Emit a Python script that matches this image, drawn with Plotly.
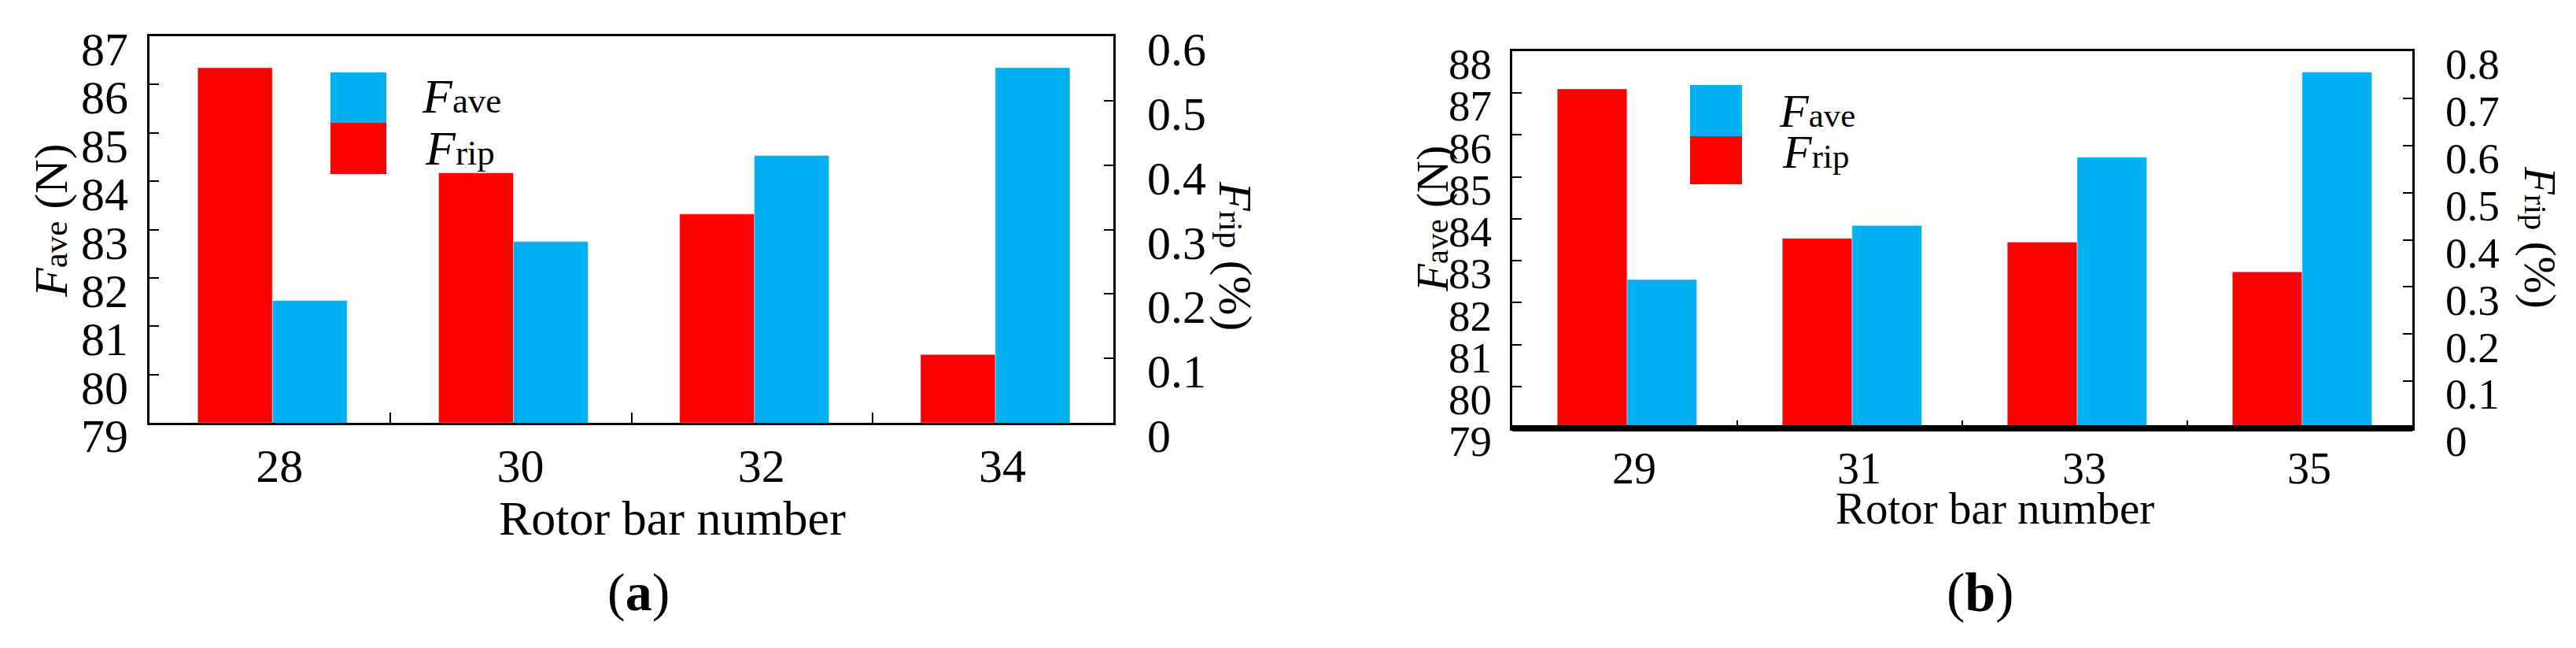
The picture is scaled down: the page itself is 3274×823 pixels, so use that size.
import plotly.graph_objects as go

W, H = 3274, 823

# panel (a)
bars_a = ["28", "30", "32", "34"]
ave_a = [81.53, 82.75, 84.53, 86.35]
rip_a = [0.551, 0.388, 0.324, 0.106]

# panel (b)
bars_b = ["29", "31", "33", "35"]
ave_b = [82.55, 83.84, 85.47, 87.5]
rip_b = [0.72, 0.403, 0.395, 0.332]

RED = "#FF0000"
BLUE = "#00B0F0"
FONT = "Liberation Serif"


def px(x):
    return x / W


def py(y):
    return 1 - y / H


fig = go.Figure()

# red on the right axis, blue on the left axis
fig.add_trace(go.Bar(x=bars_a, y=rip_a, xaxis="x", yaxis="y2", marker_color=RED,
                     width=0.31, offset=-0.30, showlegend=False))
fig.add_trace(go.Bar(x=bars_a, y=ave_a, xaxis="x", yaxis="y", marker_color=BLUE,
                     width=0.31, offset=0.01, base=0, showlegend=False))
fig.add_trace(go.Bar(x=bars_b, y=rip_b, xaxis="x2", yaxis="y4", marker_color=RED,
                     width=0.31, offset=-0.30, showlegend=False))
fig.add_trace(go.Bar(x=bars_b, y=ave_b, xaxis="x2", yaxis="y3", marker_color=BLUE,
                     width=0.31, offset=0.01, base=0, showlegend=False))

line = dict(showline=True, linecolor="black", linewidth=3, showgrid=False,
            zeroline=False, automargin=False)


def xaxis(dom, anchor, size, tl):
    return dict(domain=dom, anchor=anchor, type="category", mirror=True,
                ticks="inside", tickson="boundaries", ticklen=tl, tickwidth=2,
                tickcolor="black", ticklabelshift=12, ticklabelstandoff=0,
                tickfont=dict(family=FONT, size=size, color="black"), **line)


def yleft(dom, anchor, rng, size):
    return dict(domain=dom, anchor=anchor, range=rng, dtick=1, mirror=True,
                ticks="inside", ticklen=12, tickwidth=2, tickcolor="black",
                ticklabelshift=16, ticklabelstandoff=12,
                tickfont=dict(family=FONT, size=size, color="black"), **line)


def yright(over, anchor, rng, size):
    return dict(overlaying=over, anchor=anchor, side="right", range=rng, dtick=0.1,
                ticks="inside", ticklen=12, tickwidth=2, tickcolor="black",
                ticklabelshift=16, ticklabelstandoff=28,
                tickfont=dict(family=FONT, size=size, color="black"), **line)


dom_xa = [px(182), px(1407)]
dom_ya = [py(529), py(38)]
dom_xb = [px(1914), px(3058)]
dom_yb = [py(536), py(57)]

fig.update_layout(
    width=W, height=H,
    margin=dict(l=0, r=0, t=0, b=0, autoexpand=False),
    paper_bgcolor="white", plot_bgcolor="white",
    barmode="overlay",
    xaxis=xaxis(dom_xa, "y", 60, 13),
    yaxis=yleft(dom_ya, "x", [79, 87], 60),
    yaxis2=yright("y", "x", [0, 0.6], 60),
    xaxis2=xaxis(dom_xb, "y3", 56, 10),
    yaxis3=yleft(dom_yb, "x2", [79, 88], 55),
    yaxis4=yright("y3", "x2", [0, 0.8], 55),
)

# thick bottom line of panel (b)
fig.add_shape(type="line", xref="paper", yref="paper", x0=dom_xb[0], x1=dom_xb[1],
              y0=py(536), y1=py(536), line=dict(color="black", width=8))

# legend boxes
for x0, x1, yb, ym, yr in [(412, 483, 84, 148, 213), (2140, 2206, 100, 165, 226)]:
    fig.add_shape(type="rect", xref="paper", yref="paper", x0=px(x0), x1=px(x1),
                  y0=py(ym), y1=py(yb), fillcolor=BLUE, line_width=0)
    fig.add_shape(type="rect", xref="paper", yref="paper", x0=px(x0), x1=px(x1),
                  y0=py(yr), y1=py(ym), fillcolor=RED, line_width=0)


def note(text, x, y, size, angle=0, xanchor="center"):
    fig.add_annotation(text=text, x=px(x), y=py(y), xref="paper", yref="paper",
                       showarrow=False, textangle=angle, xanchor=xanchor, yanchor="middle",
                       font=dict(family=FONT, size=size, color="black"))


def fsym(sub, size):
    return "<i>F</i><span style='font-size:%dpx'>%s</span>" % (round(size * 0.72), sub)


# legend texts
note(fsym("ave", 62), 526, 114, 62, xanchor="left")
note(fsym("rip", 62), 530, 180, 62, xanchor="left")
note(fsym("ave", 60), 2251, 133, 60, xanchor="left")
note(fsym("rip", 60), 2255, 185, 60, xanchor="left")

# axis titles
note(fsym("ave", 60) + " (N)", 57, 272, 60, angle=-90)
note(fsym("rip", 60) + " (%)", 1562, 317, 60, angle=90)
note(fsym("ave", 57) + " (N)", 1813, 270, 57, angle=-90)
note(fsym("rip", 57) + " (%)", 3220, 293, 57, angle=90)

note("Rotor bar number", 846, 650, 62)
note("Rotor bar number", 2527, 637, 57)

note("(<b>a</b>)", 803, 744, 68)
note("(<b>b</b>)", 2509, 744, 70)

fig.write_html("out.html")
